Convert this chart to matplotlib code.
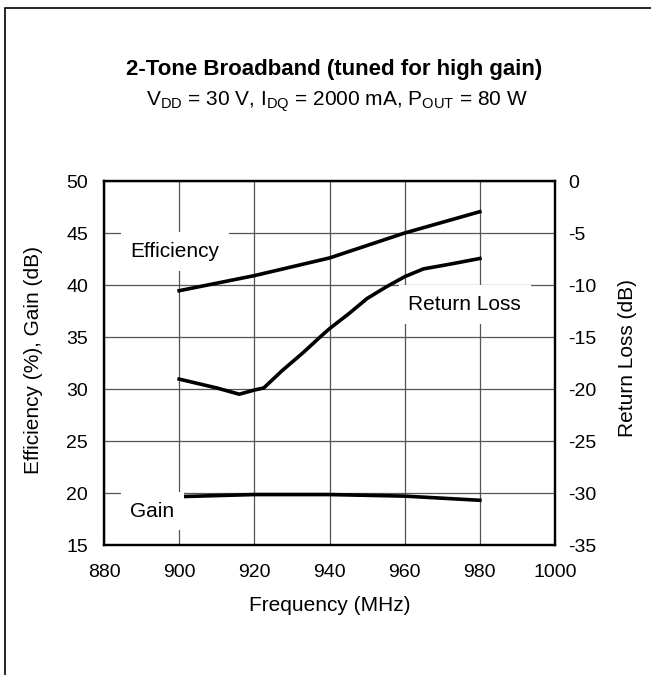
import matplotlib
matplotlib.use("Agg")
import matplotlib.pyplot as plt
from matplotlib.patches import Rectangle

plt.rcParams['font.family'] = ['Liberation Sans', 'DejaVu Sans']
plt.rcParams['mathtext.fontset'] = 'custom'
plt.rcParams['mathtext.rm'] = 'Liberation Sans'

# data
freq = [900, 920, 940, 960, 980]
efficiency = [39.45, 40.9, 42.6, 45.0, 47.05]
gain = [19.65, 19.85, 19.85, 19.7, 19.3]

rl_freq = [900, 910, 916, 920, 922.5, 927.5, 933, 937.5, 940, 945, 950, 955, 960, 965, 972, 980]
return_loss = [-19.05, -19.9, -20.5, -20.1, -19.9, -18.2, -16.5, -15.0, -14.2, -12.8, -11.3, -10.2, -9.2, -8.45, -8.0, -7.45]

x_ticks = [880, 900, 920, 940, 960, 980, 1000]
left_ticks = [15, 20, 25, 30, 35, 40, 45, 50]
right_ticks = [-35, -30, -25, -20, -15, -10, -5, 0]

fs = 14
fs_lab = 15

fig = plt.figure(figsize=(6.51, 6.75), dpi=100)
ax = fig.add_axes([104 / 651, 1 - 545 / 675, 451 / 651, 364 / 675])
ax2 = ax.twinx()

# outer frame (right and bottom edges fall outside the picture)
fig.patches.append(Rectangle((5 / 651, -0.1), 1.2, 1 - 8 / 675 + 0.1,
                             transform=fig.transFigure, fill=False,
                             edgecolor='black', linewidth=1.2))

ax.set_xlim(880, 1000)
ax.set_ylim(15, 50)
ax2.set_ylim(-35, 0)
ax.set_xticks(x_ticks)
ax.set_yticks(left_ticks)
ax2.set_yticks(right_ticks)
ax2.set_yticklabels([str(t) for t in right_ticks])
ax.grid(True, color='#555555', linewidth=0.9)
ax.set_axisbelow(True)

for a in (ax, ax2):
    a.tick_params(length=0, labelsize=fs)
    for s in a.spines.values():
        s.set_linewidth(1.6)
ax.tick_params(axis='y', pad=11.5)
ax.tick_params(axis='x', pad=14)
ax2.tick_params(axis='y', pad=9.5)

ax.plot(freq, efficiency, color='black', linewidth=2.6, zorder=3)
ax.plot(freq, gain, color='black', linewidth=2.6, zorder=3)
ax2.plot(rl_freq, return_loss, color='black', linewidth=2.6, zorder=3)

box = dict(facecolor='white', edgecolor='none', pad=7)
ax2.text(887, 43.2 - 50, 'Efficiency', fontsize=fs_lab, va='center', ha='left', bbox=box, zorder=2)
ax2.text(961, 38.1 - 50, 'Return Loss', fontsize=fs_lab, va='center', ha='left', bbox=box, zorder=2)
ax2.text(887, 18.25 - 50, 'Gain', fontsize=fs_lab, va='center', ha='left', bbox=box, zorder=2)

ax.set_xlabel('Frequency (MHz)', fontsize=fs_lab)
ax.xaxis.set_label_coords(0.5, -(596 - 545) / 364)
ax.set_ylabel('Efficiency (%), Gain (dB)', fontsize=fs_lab)
ax.yaxis.set_label_coords(-(104 - 43) / 451, (545 - 360) / 364)
ax2.set_ylabel('Return Loss (dB)', fontsize=fs_lab)
ax2.yaxis.set_label_coords((618 - 104) / 451, (545 - 358) / 364)

fig.text(334 / 651, 1 - 69 / 675, '2-Tone Broadband (tuned for high gain)',
         fontsize=16, fontweight='bold', ha='center', va='center')
fig.text(337 / 651, 1 - 102 / 675,
         r'V$_{\mathrm{DD}}$ = 30 V, I$_{\mathrm{DQ}}$ = 2000 mA, P$_{\mathrm{OUT}}$ = 80 W',
         fontsize=15, ha='center', va='center')

fig.savefig('out.png', dpi=100)
